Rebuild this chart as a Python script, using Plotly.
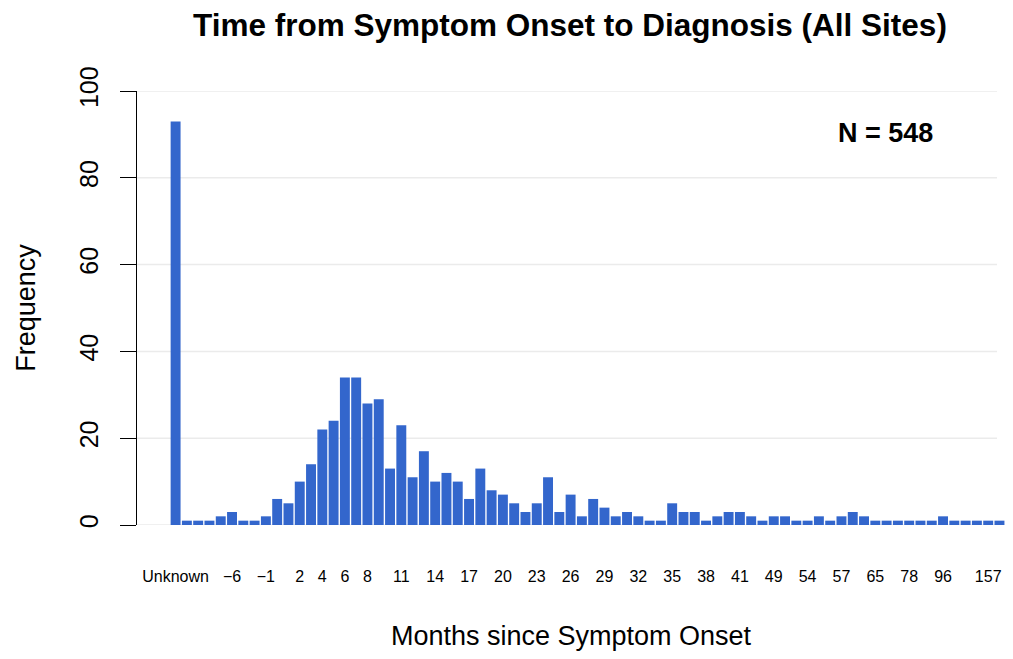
import plotly.graph_objects as go

# ---- data ----
categories = ["Unknown", "-12", "-10", "-8", "-7", "-6", "-4", "-2"] + \
    [str(v) for v in range(-1, 39)] + \
    ["39", "40", "41", "43", "46", "49", "50", "52", "54", "55", "56", "57",
     "60", "62", "65", "69", "72", "78", "84", "90", "96", "108", "120", "132",
     "157", "183"]
counts = [93, 1, 1, 1, 2, 3, 1, 1, 2, 6, 5, 10, 14, 22, 24,
          34, 34, 28, 29, 13, 23, 11, 17, 10,
          12, 10, 6, 13, 8, 7, 5, 3, 5, 11, 3, 7, 2, 6, 4, 2, 3, 2, 1, 1, 5, 3, 3, 1, 2,
          3, 3, 2, 1, 2, 2, 1, 1, 2, 1, 2, 3, 2, 1, 1, 1, 1, 1, 1, 2, 1, 1, 1, 1, 1]
shown_ticks = ["Unknown", "-6", "-1", "2", "4", "6", "8", "11", "14", "17", "20",
               "23", "26", "29", "32", "35", "38", "41", "49", "54", "57", "65",
               "78", "96", "157"]
shown_labels = [t.replace("-", "\u2212") for t in shown_ticks]
y_ticks = [0, 20, 40, 60, 80, 100]

FONT = "Liberation Sans, Arial, Helvetica, sans-serif"
BAR_COLOR = "#3366CC"

# the page body adds an 8px margin, so the figure is sized to fit the window
W, H = 997, 643

fig = go.Figure()
fig.add_trace(go.Bar(x=categories, y=counts, marker=dict(color=BAR_COLOR, line=dict(width=0)),
                     showlegend=False))

# light horizontal grid lines (stop short of the right edge, as in the reference)
for yv in y_ticks:
    fig.add_shape(type="line", xref="paper", yref="y", x0=0, x1=0.9908, y0=yv, y1=yv,
                  line=dict(color="#ebebeb", width=1.5), layer="below")

fig.add_annotation(text=f"<b>N = {sum(counts)}</b>", xref="paper", yref="y",
                   x=0.8618, y=90.3, xanchor="center", yanchor="middle",
                   showarrow=False, font=dict(family=FONT, size=27, color="black"))

fig.update_layout(
    width=W, height=H,
    margin=dict(l=129, r=0, t=83, b=126, pad=0, autoexpand=False),
    paper_bgcolor="white", plot_bgcolor="white",
    bargap=0.12,
    font=dict(family=FONT, color="black"),
    title=dict(text="Time from Symptom Onset to Diagnosis (All Sites)",
               font=dict(family=FONT, size=31.5, color="black", weight="bold"),
               xref="container", x=562 / W, xanchor="center",
               yref="container", y=1 - 17 / H, yanchor="middle"),
    xaxis=dict(type="category", range=[-3.42, 73.49], automargin=False,
               tickmode="array", tickvals=shown_ticks, ticktext=shown_labels,
               tickfont=dict(family=FONT, size=16, color="black"),
               ticks="", showline=False, showgrid=False, zeroline=False,
               ticklabelstandoff=40,
               title=dict(text="Months since Symptom Onset",
                          font=dict(family=FONT, size=27, color="black"), standoff=43)),
    yaxis=dict(range=[0, 100], tickmode="array", tickvals=y_ticks, automargin=False,
               tickfont=dict(family=FONT, size=25, color="black"),
               tickangle=-90, ticks="outside", ticklen=16, tickwidth=1, tickcolor="black",
               showline=True, linecolor="black", linewidth=1,
               showgrid=False, zeroline=False, ticklabelstandoff=12,
               title=dict(text="Frequency", font=dict(family=FONT, size=27, color="black"),
                          standoff=31)),
)

fig.write_html("out.html")
